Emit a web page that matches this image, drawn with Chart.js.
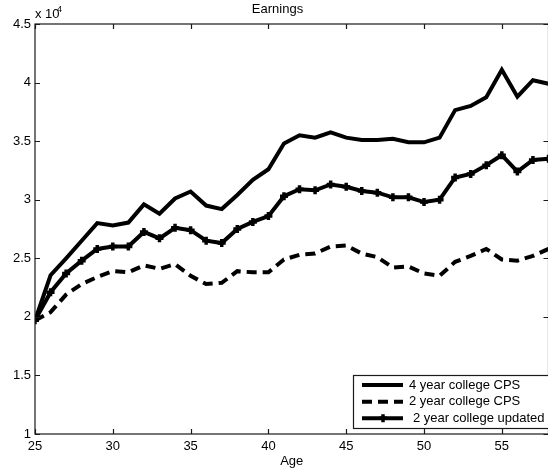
<!DOCTYPE html>
<html>
<head>
<meta charset="utf-8">
<script src="https://cdn.jsdelivr.net/npm/chart.js@4"></script>
<style>
  html, body { margin: 0; padding: 0; background: #fff; overflow: hidden; }
  canvas { display: block; }
</style>
</head>
<body>
<canvas id="chart" width="556" height="470"></canvas>
<script>
// Idades (eixo x) e séries de rendimentos, em dólares
const ages = [25, 26, 27, 28, 29, 30, 31, 32, 33, 34, 35, 36, 37, 38, 39, 40, 41,
              42, 43, 44, 45, 46, 47, 48, 49, 50, 51, 52, 53, 54, 55, 56, 57, 58];
const fourYearCPS = [19700, 23550, 25000, 26500, 28000, 27800, 28050, 29600, 28800, 30100,
                     30700, 29500, 29200, 30400, 31700, 32600, 34800, 35500, 35300, 35750,
                     35300, 35100, 35100, 35200, 34900, 34900, 35300, 37650, 38000, 38750,
                     41100, 38800, 40200, 39900];
const twoYearCPS = [19700, 20400, 21900, 22800, 23400, 23900, 23800, 24400, 24100, 24500,
                    23500, 22800, 22900, 23900, 23800, 23800, 24900, 25300, 25400, 26000,
                    26100, 25400, 25100, 24200, 24300, 23700, 23500, 24700, 25200, 25800,
                    24900, 24800, 25200, 25800];
const twoYearUpdated = [19700, 22100, 23700, 24800, 25800, 26000, 26000, 27250, 26700, 27600,
                        27400, 26500, 26300, 27500, 28100, 28600, 30300, 30900, 30800, 31300,
                        31100, 30750, 30600, 30200, 30200, 29800, 30000, 31900, 32200, 32950,
                        33800, 32400, 33400, 33500];
const seriesLabels = ['4 year college CPS', '2 year college CPS', '2 year college updated'];
const xTicks = [25, 30, 35, 40, 45, 50, 55];
const yTicks = [10000, 15000, 20000, 25000, 30000, 35000, 40000, 45000];

const FONT = '"Liberation Sans", Arial, Helvetica, sans-serif';
const AXIS = '#1a1a1a';

const toPoints = arr => arr.map((v, i) => ({ x: ages[i], y: v }));

// Caixa estilo Matlab: moldura, ticks para dentro, legenda e "x 10^4"
const matlabBox = {
  id: 'matlabBox',
  afterDatasetsDraw(chart) {
    const { ctx, chartArea: a, scales: { x, y } } = chart;
    ctx.save();
    ctx.strokeStyle = AXIS;
    ctx.lineWidth = 1.2;
    ctx.strokeRect(a.left, a.top, a.right - a.left, a.bottom - a.top);
    ctx.beginPath();
    xTicks.forEach(t => {
      const px = Math.round(x.getPixelForValue(t)) + 0.5;
      ctx.moveTo(px, a.bottom); ctx.lineTo(px, a.bottom - 5);
      ctx.moveTo(px, a.top); ctx.lineTo(px, a.top + 5);
    });
    yTicks.forEach(t => {
      const py = Math.round(y.getPixelForValue(t)) + 0.5;
      ctx.moveTo(a.left, py); ctx.lineTo(a.left + 5, py);
      ctx.moveTo(a.right, py); ctx.lineTo(a.right - 5, py);
    });
    ctx.stroke();

    // multiplicador do eixo y
    ctx.fillStyle = '#000';
    ctx.textBaseline = 'alphabetic';
    ctx.textAlign = 'left';
    ctx.font = '13px ' + FONT;
    ctx.fillText('x 10', 35, 17.5);
    ctx.font = '9px ' + FONT;
    ctx.fillText('4', 57, 12);

    // legenda
    const bx = 353, by = 375, bh = 53;
    ctx.fillStyle = '#fff';
    ctx.fillRect(bx, by, chart.width - bx, bh);
    ctx.lineWidth = 1.2;
    ctx.strokeStyle = AXIS;
    ctx.strokeRect(bx + 0.5, by + 0.5, chart.width, bh);
    const rows = [385, 401.7, 418.3];
    const textX = [409, 409, 413];
    chart.data.datasets.forEach((ds, i) => {
      const yy = rows[i];
      ctx.strokeStyle = '#000';
      ctx.lineWidth = ds.borderWidth;
      ctx.setLineDash(ds.borderDash || []);
      ctx.beginPath();
      ctx.moveTo(362, yy); ctx.lineTo(403, yy);
      ctx.stroke();
      ctx.setLineDash([]);
      if (ds.pointRadius > 0) {
        ctx.lineWidth = ds.pointBorderWidth;
        ctx.beginPath();
        ctx.moveTo(383 - 4, yy); ctx.lineTo(383 + 4, yy);
        ctx.moveTo(383, yy - 4); ctx.lineTo(383, yy + 4);
        ctx.stroke();
      }
      ctx.fillStyle = '#000';
      ctx.font = '13px ' + FONT;
      ctx.textBaseline = 'middle';
      ctx.fillText(ds.label, textX[i], yy);
    });
    ctx.restore();
  }
};

new Chart(document.getElementById('chart'), {
  type: 'line',
  data: {
    datasets: [
      {
        label: seriesLabels[0],
        data: toPoints(fourYearCPS),
        borderColor: '#000',
        borderWidth: 4,
        pointRadius: 0,
      },
      {
        label: seriesLabels[1],
        data: toPoints(twoYearCPS),
        borderColor: '#000',
        borderWidth: 4,
        borderDash: [10, 6],
        pointRadius: 0,
      },
      {
        label: seriesLabels[2],
        data: toPoints(twoYearUpdated),
        borderColor: '#000',
        borderWidth: 4,
        pointStyle: 'cross',
        pointRadius: 4,
        pointBorderWidth: 3.5,
        pointBorderColor: '#000',
        pointBackgroundColor: '#000',
      },
    ],
  },
  options: {
    responsive: false,
    animation: false,
    devicePixelRatio: 1,
    layout: { padding: { left: 0, right: 1, top: 0, bottom: 0 } },
    elements: { line: { tension: 0, borderCapStyle: 'butt' } },
    plugins: {
      legend: { display: false },
      tooltip: { enabled: false },
      title: {
        display: true,
        text: 'Earnings',
        color: '#000',
        font: { family: FONT, size: 13, weight: 'normal' },
        padding: { top: 2, bottom: 6.4 },
      },
    },
    scales: {
      x: {
        type: 'linear',
        min: 25,
        max: 58,
        grid: { display: false, drawTicks: false },
        border: { display: false },
        afterFit: s => { s.height = 36; },
        afterBuildTicks: s => { s.ticks = xTicks.map(v => ({ value: v })); },
        ticks: {
          autoSkip: false,
          maxRotation: 0,
          padding: 5,
          color: '#000',
          font: { family: FONT, size: 13 },
        },
        title: {
          display: true,
          text: 'Age',
          color: '#000',
          font: { family: FONT, size: 13 },
          padding: { top: 0, bottom: 1 },
        },
      },
      y: {
        type: 'linear',
        min: 10000,
        max: 45000,
        grid: { display: false, drawTicks: false },
        border: { display: false },
        afterFit: s => { s.width = 35; },
        afterBuildTicks: s => { s.ticks = yTicks.map(v => ({ value: v })); },
        ticks: {
          padding: 4,
          color: '#000',
          font: { family: FONT, size: 13 },
          callback: v => String(v / 10000),
        },
      },
    },
  },
  plugins: [matlabBox],
});
</script>
</body>
</html>
